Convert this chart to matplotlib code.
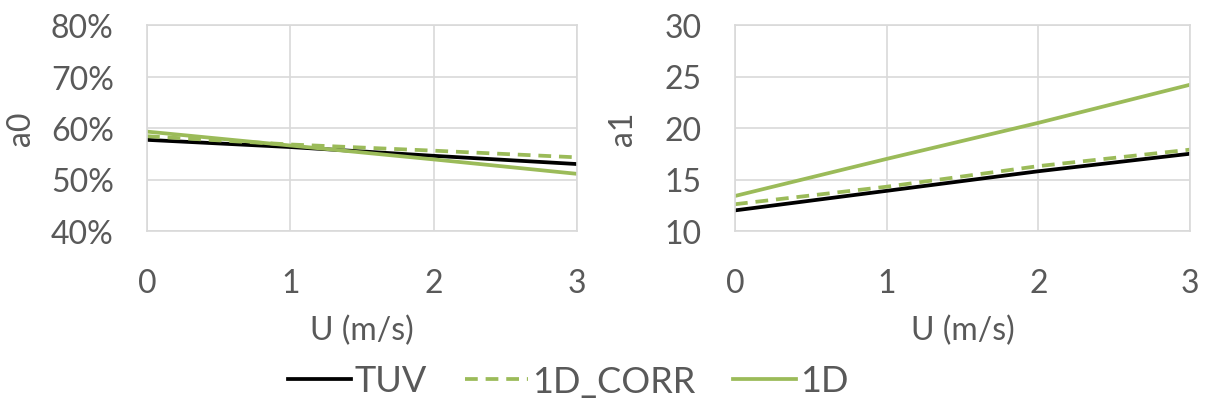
import matplotlib
matplotlib.use("Agg")
import matplotlib.pyplot as plt
from matplotlib.ticker import PercentFormatter

u = [0, 1, 2, 3]

# a0 (fraction, %)
a0_tuv = [57.7, 56.3, 54.6, 53.0]
a0_corr = [58.4, 56.8, 55.6, 54.3]
a0_1d = [59.3, 56.6, 53.9, 51.1]

# a1
a1_tuv = [12.0, 13.9, 15.8, 17.5]
a1_corr = [12.6, 14.3, 16.3, 17.9]
a1_1d = [13.4, 17.0, 20.5, 24.2]

green = "#9bbb59"
grey = "#595959"
grid = "#d9d9d9"
fs = 23
lw = 2.7
dash = (0, (3.4, 2.1))

plt.rcParams['font.family'] = ['Lato', 'DejaVu Sans']

fig = plt.figure(figsize=(12.07, 4.10), dpi=100)
W, H = 1207, 410
axL = fig.add_axes([147 / W, 1 - 232 / H, 430 / W, 206 / H])
axR = fig.add_axes([735 / W, 1 - 232 / H, 455 / W, 206 / H])

def style(ax, ylab, ypad):
    ax.set_xlim(0, 3)
    ax.set_xticks(u)
    ax.grid(True, color=grid, lw=1.2)
    ax.set_axisbelow(True)
    for s in ax.spines.values():
        s.set_color(grid)
        s.set_linewidth(1.2)
    ax.tick_params(length=0, labelsize=fs, colors=grey)
    ax.tick_params(axis='x', pad=27)
    ax.tick_params(axis='y', pad=24)
    ax.set_xlabel("U (m/s)", fontsize=fs, color=grey, labelpad=12)
    ax.set_ylabel(ylab, fontsize=fs, color=grey, labelpad=ypad)

l1, = axL.plot(u, a0_tuv, color="black", lw=lw, label="TUV")
l2, = axL.plot(u, a0_corr, color=green, lw=lw, ls=dash, label="1D_CORR")
l3, = axL.plot(u, a0_1d, color=green, lw=lw, label="1D")
axL.set_ylim(40, 80)
axL.set_yticks([40, 50, 60, 70, 80])
axL.yaxis.set_major_formatter(PercentFormatter(decimals=0))
style(axL, "a0", 11)

axR.plot(u, a1_tuv, color="black", lw=lw)
axR.plot(u, a1_corr, color=green, lw=lw, ls=dash)
axR.plot(u, a1_1d, color=green, lw=lw)
axR.set_ylim(10, 30)
axR.set_yticks([10, 15, 20, 25, 30])
style(axR, "a1", 19)

leg = fig.legend(handles=[l1, l2, l3], loc="center", bbox_to_anchor=(568 / W, 1 - 382 / H),
                 ncol=3, frameon=False, fontsize=26, handlelength=1.75, handletextpad=0.1,
                 columnspacing=1.05)
for t in leg.get_texts():
    t.set_color(grey)

fig.savefig("out.png", dpi=100)
